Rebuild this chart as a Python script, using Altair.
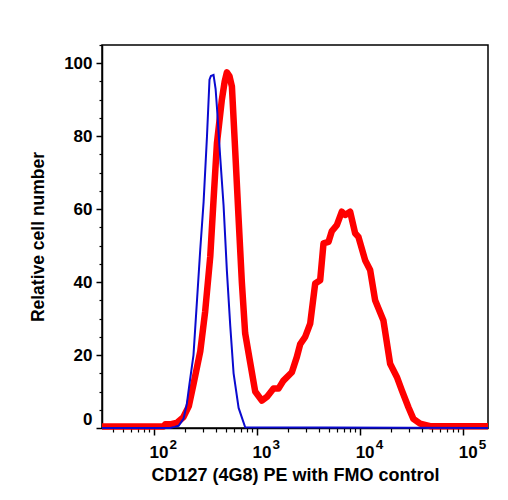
import altair as alt
import pandas as pd

# FMO control (blue)
blue_x = [31.6, 145, 160, 175, 195, 210, 223, 244, 264, 284, 306, 330, 349, 360, 382,
          400, 412, 444, 478, 515, 555, 598, 669, 775, 176000]
blue_y = [0, 0, 0.3, 0.6, 2.5, 6.5, 12, 20, 35, 49, 62, 80, 95.5, 96.5, 96.8,
          93, 88, 74, 61, 43, 28, 15, 5.5, 0.2, 0]

# CD127 (4G8) PE (red)
red_x = [31.6, 125, 130, 145, 170, 195, 220, 244, 284, 317, 355, 382, 412, 460, 490,
         515, 545, 576, 620, 667, 719, 774, 866, 969, 1125, 1258, 1459, 1631, 1823,
         2199, 2459, 2649, 2961, 3311, 3701, 4139, 4457, 4981, 5375, 6008, 6718,
         7232, 8087, 9040, 9730, 11300, 12640, 14130, 17010, 19760, 22960, 25670,
         29720, 33230, 38620, 48300, 176000]
red_y = [0.4, 0.4, 1, 1, 1.5, 3, 6, 12, 21, 32, 47, 62.5, 78, 90, 95,
         97.5, 96.5, 93.6, 76, 58, 40, 26, 18, 10, 7.5, 8.5, 10.8, 10.8, 13,
         15.3, 19.5, 23, 25, 28.6, 39.6, 40.5, 50.6, 51, 54, 55.6, 59.3,
         58.4, 59.3, 53.4, 52.4, 46, 43.3, 35, 29.5, 17.6, 14, 10.3,
         5.7, 2.5, 1.2, 0.5, 0.5]

x_major = [100, 1000, 10000, 100000]
x_base_labels = ["10", "10", "10", "10"]
x_exp_labels = ["2", "3", "4", "5"]
x_minor = [40, 50, 60, 70, 80, 90,
           200, 300, 400, 500, 600, 700, 800, 900,
           2000, 3000, 4000, 5000, 6000, 7000, 8000, 9000,
           20000, 30000, 40000, 50000, 60000, 70000, 80000, 90000]
y_major = [0, 20, 40, 60, 80, 100]
y_minor = [5, 10, 15, 25, 30, 35, 45, 50, 55, 65, 70, 75, 85, 90, 95, 105]

FONT = "Liberation Sans"
W, H = 386, 383

df = pd.concat([
    pd.DataFrame({"x": red_x, "y": red_y, "s": "red"}),
    pd.DataFrame({"x": blue_x, "y": blue_y, "s": "blue"}),
])
xs = alt.Scale(type="log", domain=[31.6, 176000], nice=False)
ys = alt.Scale(domain=[0, 105], nice=False, zero=False)

major_x = alt.Axis(orient="bottom", values=x_major, labels=False, tickSize=7,
                   tickWidth=1.5, tickColor="black", domainColor="black",
                   domainWidth=1.5, grid=False,
                   title="CD127 (4G8) PE with FMO control", titleFont=FONT,
                   titleFontSize=18, titleFontWeight="bold", titleColor="black",
                   titleBaseline="alphabetic", titleY=52)
major_y = alt.Axis(orient="left", values=y_major, tickSize=6, tickWidth=1.5,
                   tickColor="black", domainColor="black", domainWidth=1.5,
                   grid=False, labelFont=FONT, labelFontSize=17,
                   labelFontWeight="bold", labelColor="black", labelPadding=4,
                   labelFlush=True,
                   title="Relative cell number", titleFont=FONT,
                   titleFontSize=17.5, titleFontWeight="bold", titleColor="black",
                   titleBaseline="middle", titleX=-64)

red = alt.Chart(df).transform_filter(alt.datum.s == "red").mark_line(
    color="#FF0000", strokeWidth=6.5, strokeJoin="round"
).encode(x=alt.X("x:Q", scale=xs, axis=major_x),
         y=alt.Y("y:Q", scale=ys, axis=major_y))

blue = alt.Chart(df).transform_filter(alt.datum.s == "blue").mark_line(
    color="#0A0ACF", strokeWidth=2
).encode(x=alt.X("x:Q", scale=xs, axis=None),
         y=alt.Y("y:Q", scale=ys, axis=None))

minor_x_df = pd.DataFrame({"x": x_minor, "y": 0})
minor_y_df = pd.DataFrame({"x": 100, "y": y_minor})

minor_x = alt.Chart(minor_x_df).mark_point(opacity=0).encode(
    x=alt.X("x:Q", scale=xs, axis=alt.Axis(orient="bottom", values=x_minor,
            labels=False, tickSize=4, tickWidth=1.2, tickColor="black",
            domain=False, grid=False, title=None)),
    y=alt.Y("y:Q", scale=ys, axis=None))

minor_y = alt.Chart(minor_y_df).mark_point(opacity=0).encode(
    x=alt.X("x:Q", scale=xs, axis=None),
    y=alt.Y("y:Q", scale=ys, axis=alt.Axis(orient="left", values=y_minor,
            labels=False, tickSize=3, tickWidth=1.2, tickColor="black",
            domain=False, grid=False, title=None)))

lab_df = pd.DataFrame({"x": x_major, "base": x_base_labels, "exp": x_exp_labels})
base_txt = alt.Chart(lab_df).mark_text(
    font=FONT, fontSize=17, fontWeight="bold", align="left",
    baseline="alphabetic", dx=-4, color="black"
).encode(x=alt.X("x:Q", scale=xs, axis=None), y=alt.value(H + 30), text="base:N")
exp_txt = alt.Chart(lab_df).mark_text(
    font=FONT, fontSize=13.5, fontWeight="bold", align="left",
    baseline="alphabetic", dx=16, color="black"
).encode(x=alt.X("x:Q", scale=xs, axis=None), y=alt.value(H + 21), text="exp:N")

chart = alt.layer(red, blue, minor_x, minor_y, base_txt, exp_txt).resolve_axis(
    x="independent", y="independent"
).properties(
    width=W, height=H,
    autosize=alt.AutoSizeParams(type="none"),
    padding={"left": 102, "top": 45, "right": 20, "bottom": 72},
    background="white",
).configure_view(stroke="black", strokeWidth=1.5)

chart.save("out.html", embed_options={"renderer": "svg", "actions": False})
